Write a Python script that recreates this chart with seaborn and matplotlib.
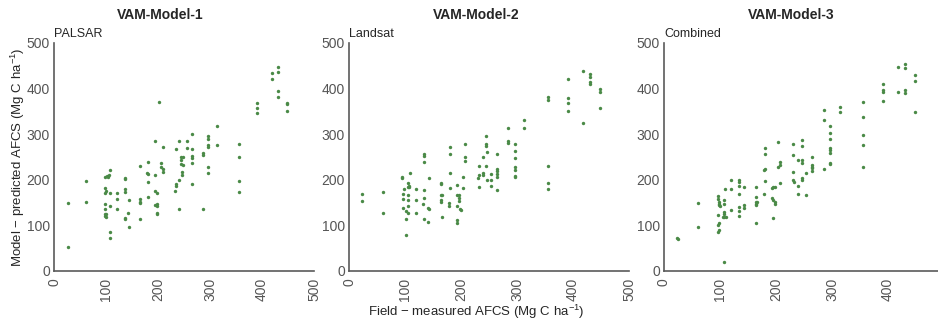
import pandas as pd
import seaborn as sns
import matplotlib.pyplot as plt

sns.set_style("white")
plt.rcParams["font.family"] = ["Liberation Sans", "DejaVu Sans"]
plt.rcParams["mathtext.default"] = "regular"

TITLES = ["VAM-Model-1", "VAM-Model-2", "VAM-Model-3"]
SOURCES = ["PALSAR", "Landsat", "Combined"]
TICKS = [0, 100, 200, 300, 400, 500]

# VAM-Model-1 (PALSAR)
m1_field = [27, 27, 61, 61,
            99, 101, 103, 106, 108, 99, 100, 99, 108, 99, 108, 99, 99, 100, 99, 100, 108, 108,
            122, 122, 122,
            136, 137, 137, 136, 136, 137,
            144, 143, 144,
            165, 165, 166, 166, 166,
            180, 179, 180, 180, 180,
            195, 195, 195, 198, 195, 198, 199, 199, 199,
            202, 206, 206, 210, 210, 210,
            232, 235, 235, 235, 241, 241, 241,
            245, 245, 245, 247, 247, 248, 248,
            255, 255,
            265, 265, 265, 266, 266, 265,
            286, 286, 286,
            297, 297, 297, 297, 297, 297,
            314, 314,
            356, 356, 356, 356,
            391, 391, 391,
            419, 419, 431, 431, 431, 431,
            449, 449, 449]
m1_pred = [149, 53, 197, 152,
           207, 208, 207, 210, 221, 181, 175, 172, 170, 146, 143, 137, 120, 118, 124, 126, 86, 72,
           170, 157, 135,
           205, 201, 179, 174, 117, 114,
           156, 128, 96,
           230, 157, 152, 150, 115,
           239, 214, 212, 195, 163,
           284, 211, 175, 171, 145, 142, 146, 128, 125,
           370, 236, 227, 224, 217, 271,
           176, 190, 186, 268, 285, 135, 200,
           250, 244, 235, 218, 210, 232, 251,
           286, 269,
           300, 267, 252, 247, 237, 191,
           258, 254, 135,
           295, 290, 276, 273, 229, 216,
           319, 276,
           278, 249, 198, 173,
           368, 358, 347,
           434, 420, 448, 436, 394, 381,
           369, 366, 351]

# VAM-Model-2 (Landsat)
m2_field = [24, 24, 60, 60,
            95, 95, 109, 106, 107, 105, 108, 99, 97, 106, 97, 106, 97, 106, 101, 106, 101, 101,
            120, 120, 120,
            134, 134, 134, 134, 134, 133, 141, 142, 134, 141, 143,
            164, 165, 164, 166, 164, 165, 166,
            180, 180, 180, 180, 179, 179,
            193, 193, 196, 196, 196, 193, 198, 200, 192, 192,
            204, 204, 208, 208, 208,
            233, 231, 233, 233, 240, 240, 240, 244, 245, 245, 246, 245, 246,
            254, 253, 254,
            264, 264, 264, 265, 265, 264,
            284, 284, 284,
            296, 296, 296, 296, 296, 296, 296,
            313, 313,
            356, 356, 356, 356, 356,
            391, 391, 391, 391,
            418, 418,
            430, 430, 430, 430,
            449, 449, 449]
m2_pred = [168, 153, 174, 128,
           207, 204, 214, 192, 187, 184, 184, 179, 168, 166, 157, 156, 139, 142, 132, 128, 114, 78,
           179, 155, 128,
           256, 252, 238, 178, 159, 147, 139, 135, 114, 108, 204,
           192, 190, 166, 166, 156, 152, 118,
           273, 256, 214, 181, 149, 143,
           189, 166, 167, 159, 154, 142, 136, 133, 112, 105,
           207, 181, 278, 249, 241,
           230, 203, 211, 185, 251, 214, 210, 295, 278, 275, 262, 230, 200,
           212, 200, 187,
           256, 223, 220, 213, 206, 177,
           314, 285, 280,
           279, 263, 247, 229, 221, 209, 207,
           331, 314,
           381, 375, 231, 194, 179,
           420, 379, 369, 351,
           439, 325,
           432, 425, 414, 409,
           400, 393, 357]

# VAM-Model-3 (Combined)
m3_field = [24, 25, 60, 60,
            97, 97, 98, 99, 98, 100, 108, 108, 97, 107, 108, 106, 108, 110, 97, 99, 97, 99, 107, 109,
            120, 120, 120,
            134, 134, 134, 134, 134, 134, 134, 142, 142, 142,
            164, 165, 164, 165, 164, 166, 164,
            180, 180, 180, 179, 180, 179,
            193, 195, 198, 193, 195, 198, 199, 194,
            204, 204, 208, 208, 208,
            231, 231, 231, 231, 232, 239, 239, 239, 246, 246, 246, 247, 246, 247,
            254, 254,
            264, 264, 265, 265, 264,
            286, 286, 286,
            296, 296, 296, 296, 296, 296, 296, 296,
            314, 314,
            356, 356, 356, 356, 356,
            391, 391, 391, 391,
            418, 418, 431, 431, 431, 431,
            449, 449, 449]
m3_pred = [72, 70, 150, 96,
           165, 157, 152, 148, 145, 143, 156, 148, 123, 130, 126, 119, 119, 119, 101, 106, 86, 90, 20, 180,
           200, 180, 134,
           200, 195, 187, 169, 140, 132, 121, 185, 144, 138,
           185, 163, 152, 148, 144, 151, 105,
           269, 257, 224, 221, 198, 168,
           183, 185, 185, 160, 156, 152, 146, 117,
           282, 227, 232, 240, 192,
           279, 254, 217, 200, 196, 244, 187, 169, 287, 275, 244, 237, 204, 200,
           215, 167,
           251, 232, 229, 225, 220,
           353, 331, 224,
           319, 302, 289, 269, 265, 258, 235, 237,
           360, 349,
           370, 337, 298, 276, 227,
           409, 397, 392, 373,
           448, 392, 455, 445, 397, 390,
           429, 416, 348]

panels = [
    pd.DataFrame({"field": m1_field, "pred": m1_pred}),
    pd.DataFrame({"field": m2_field, "pred": m2_pred}),
    pd.DataFrame({"field": m3_field, "pred": m3_pred}),
]

W, H = 938, 320
# axes boxes in pixels: left, width; title centre x
boxes = [(54, 260), (349, 280), (664, 280)]
title_x = [160, 476, 791]
bottom, top = 271, 43

fig = plt.figure(figsize=(W / 100, H / 100), dpi=100)
for i, df in enumerate(panels):
    left, width = boxes[i]
    ax = fig.add_axes([left / W, 1 - bottom / H, width / W, (bottom - top) / H])
    sns.scatterplot(data=df, x="field", y="pred", ax=ax, color="#4a8a47",
                    s=6, linewidth=0, clip_on=False)
    ax.set_xlim(0, 500)
    ax.set_ylim(0, 500)
    ax.set_xticks(TICKS)
    ax.set_yticks(TICKS)
    ax.set_xlabel("")
    ax.set_ylabel("")
    for s in ("top", "right"):
        ax.spines[s].set_visible(False)
    for s in ("left", "bottom"):
        ax.spines[s].set_color("#5a5a5a")
        ax.spines[s].set_linewidth(1.2)
    ax.tick_params(axis="both", direction="out", length=2, width=0.8,
                   color="#5a5a5a", labelsize=10, labelcolor="#555555", pad=1)
    ax.tick_params(axis="x", labelrotation=90, pad=3)
    ax.set_title(SOURCES[i], loc="left", fontsize=9, pad=4, x=0.0)
    fig.text(title_x[i] / W, 1 - 15 / H, TITLES[i], ha="center", va="center",
             fontsize=10, fontweight="bold")

fig.text(18 / W, 1 - 157 / H, "Model $-$ predicted AFCS (Mg C ha$^{-1}$)",
         rotation=90, ha="center", va="center", fontsize=9.5)
fig.text(476 / W, 1 - 312 / H, "Field $-$ measured AFCS (Mg C ha$^{-1}$)",
         ha="center", va="center", fontsize=9.5)

fig.savefig("out.png", dpi=100)
